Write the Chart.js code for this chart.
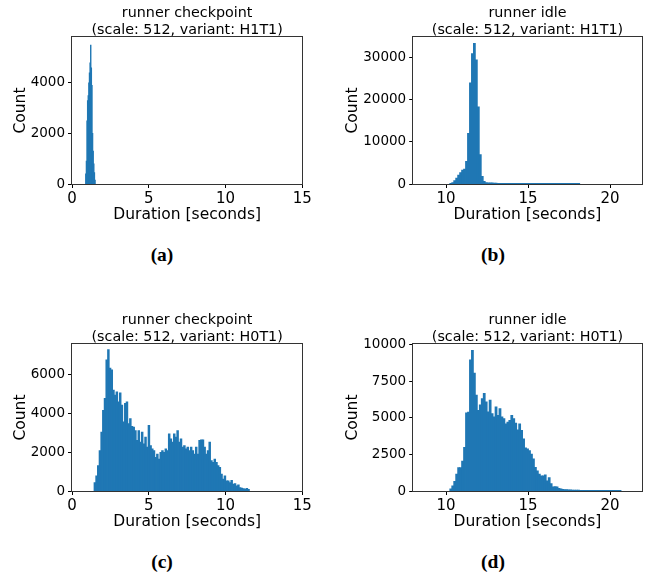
<!DOCTYPE html>
<html>
<head>
<meta charset="utf-8">
<script src="https://cdn.jsdelivr.net/npm/chart.js@4.4.1/dist/chart.umd.min.js"></script>
<style>
  html, body { margin: 0; padding: 0; background: #fff; }
  #wrap { position: relative; width: 651px; height: 578px; overflow: hidden; }
  .panel { position: absolute; }
  .cap { position: absolute; width: 120px; text-align: center; font-family: "Liberation Serif", "Times New Roman", serif; font-weight: bold; font-size: 19.5px; line-height: 1; color: #000; }
</style>
</head>
<body>
<div id="wrap">
  <canvas id="ca" class="panel" width="325" height="225" style="left:0px;top:0px"></canvas>
  <canvas id="cb" class="panel" width="326" height="225" style="left:325px;top:0px"></canvas>
  <canvas id="cc" class="panel" width="325" height="225" style="left:0px;top:307px"></canvas>
  <canvas id="cd" class="panel" width="326" height="225" style="left:325px;top:307px"></canvas>
  <div class="cap" style="left:102px;top:245px">(a)</div>
  <div class="cap" style="left:433px;top:245px">(b)</div>
  <div class="cap" style="left:102px;top:552px">(c)</div>
  <div class="cap" style="left:433px;top:552px">(d)</div>
</div>
<script>
// ---------- data ----------
const titlesA = ['runner checkpoint', '(scale: 512, variant: H1T1)'];
const titlesB = ['runner idle', '(scale: 512, variant: H1T1)'];
const titlesC = ['runner checkpoint', '(scale: 512, variant: H0T1)'];
const titlesD = ['runner idle', '(scale: 512, variant: H0T1)'];
const xLabel = 'Duration [seconds]';
const yLabel = 'Count';

// (a) bin centres and counts
const binsA = [0.90, 0.94, 0.98, 1.02, 1.06, 1.10, 1.14, 1.18, 1.22, 1.26, 1.30, 1.34, 1.38, 1.42, 1.46, 1.50];
const countsA = [400, 900, 2500, 3300, 3500, 4000, 4400, 4800, 5500, 4600, 3900, 2000, 1300, 800, 450, 150];

// (b)
const binsB = [10.29, 10.41, 10.53, 10.65, 10.77, 10.89, 11.01, 11.13, 11.25, 11.37, 11.49, 11.61, 11.73, 11.85, 11.97,
  12.09, 12.21, 12.33, 12.45, 12.57, 12.69, 12.81, 12.93, 13.05, 13.17, 13.29, 13.41, 13.53, 13.65, 13.77, 13.89,
  14.01, 14.13, 14.25, 14.37, 14.49, 14.61, 14.73, 14.85, 14.97, 15.09, 15.21, 15.33, 15.45, 15.57, 15.69, 15.81,
  15.93, 16.05, 16.17, 16.29, 16.41, 16.53, 16.65, 16.77, 16.89, 17.01, 17.13, 17.25, 17.37, 17.49, 17.61, 17.73,
  17.85, 17.97, 18.09];
const countsB = [50, 300, 800, 1400, 2100, 2700, 3300, 3500, 5400, 12000, 24000, 31000, 33400, 29500, 18300,
  7000, 1800, 600, 300, 260, 240, 250, 230, 180, 170, 160, 170, 150, 160, 150, 140,
  150, 130, 140, 110, 100, 100, 90, 100, 90, 90, 90, 80, 80, 80, 80, 70,
  70, 70, 70, 70, 60, 60, 60, 60, 60, 60, 60, 60, 60, 60, 60, 60,
  60, 60, 60];

// (c)
const binsC = [1.49, 1.60, 1.71, 1.82, 1.93, 2.04, 2.15, 2.26, 2.37, 2.48, 2.59, 2.70, 2.81, 2.92, 3.03, 3.14,
  3.25, 3.36, 3.47, 3.58, 3.69, 3.80, 3.91, 4.02, 4.13, 4.24, 4.35, 4.46, 4.57, 4.68, 4.79, 4.90,
  5.01, 5.12, 5.23, 5.34, 5.45, 5.56, 5.67, 5.78, 5.89, 6.00, 6.11, 6.22, 6.33, 6.44, 6.55, 6.66,
  6.77, 6.88, 6.99, 7.10, 7.21, 7.32, 7.43, 7.54, 7.65, 7.76, 7.87, 7.98, 8.09, 8.20, 8.31, 8.42,
  8.53, 8.64, 8.75, 8.86, 8.97, 9.08, 9.19, 9.30, 9.41, 9.52, 9.63, 9.74, 9.85, 9.96, 10.07, 10.18,
  10.29, 10.40, 10.51, 10.62, 10.73, 10.84, 10.95, 11.06, 11.17, 11.28, 11.39, 11.50];
const countsC = [430, 780, 1300, 2076, 3030, 4150, 4760, 6750, 7270, 6315, 6230, 5190, 4930, 5100, 4580, 5050,
  4410, 3550, 4500, 4580, 3460, 3720, 3320, 3290, 3110, 2600, 3110, 2510, 3030, 2420, 2770, 2250,
  3370, 2335, 2160, 2080, 1730, 1900, 1640, 1990, 2080, 1990, 2160, 2080, 2940, 2680, 2510, 2940,
  2770, 3110, 2510, 2680, 2250, 2335, 2160, 2250, 2080, 2250, 2080, 1900, 2250, 1900, 2600, 2630,
  2630, 2250, 1900, 2080, 2510, 1560, 1470, 1640, 1470, 1300, 1210, 865, 605, 780, 520, 520,
  433, 550, 346, 380, 260, 311, 173, 150, 120, 100, 130, 80];

// (d)
const binsD = [10.29, 10.41, 10.53, 10.65, 10.77, 10.89, 11.01, 11.13, 11.25, 11.37, 11.49, 11.61, 11.73, 11.85, 11.97,
  12.09, 12.21, 12.33, 12.45, 12.57, 12.69, 12.81, 12.93, 13.05, 13.17, 13.29, 13.41, 13.53, 13.65, 13.77, 13.89,
  14.01, 14.13, 14.25, 14.37, 14.49, 14.61, 14.73, 14.85, 14.97, 15.09, 15.21, 15.33, 15.45, 15.57, 15.69, 15.81,
  15.93, 16.05, 16.17, 16.29, 16.41, 16.53, 16.65, 16.77, 16.89, 17.01, 17.13, 17.25, 17.37, 17.49, 17.61, 17.73,
  17.85, 17.97, 18.09, 18.21, 18.33, 18.45, 18.57, 18.69, 18.81, 18.93, 19.05, 19.17, 19.29, 19.41, 19.53, 19.65,
  19.77, 19.89, 20.01, 20.13, 20.25, 20.37, 20.49, 20.61];
const countsD = [150, 350, 650, 1150, 1600, 1600, 2050, 2990, 5340, 5400, 8980, 9620, 8060, 6560, 5525,
  5900, 6330, 6675, 6100, 5410, 6215, 5295, 5065, 5755, 5180, 5640, 5065, 4950, 4600, 4720, 4835,
  5180, 4950, 4650, 4190, 4600, 4145, 3570, 2950, 2880, 2760, 2530, 2190, 1610, 1380, 1150, 1035,
  1035, 1100, 690, 920, 510, 276, 300, 276, 184, 138, 115, 100, 90, 80, 70, 60,
  60, 50, 50, 40, 40, 40, 40, 30, 30, 30, 30, 30, 30, 20, 20, 20,
  20, 20, 20, 20, 20, 20, 20, 20];

// axis ranges and tick values
const xRangeA = [0, 15], xRangeB = [8.0, 21.93], xRangeC = [0, 15], xRangeD = [8.0, 21.93];
const yMaxA = 5820, yMaxB = 34930, yMaxC = 7560, yMaxD = 10060;
const xTicksA = [0, 5, 10, 15], xTicksB = [10, 15, 20], xTicksC = [0, 5, 10, 15], xTicksD = [10, 15, 20];
const yTicksA = [0, 2000, 4000], yTicksB = [0, 10000, 20000, 30000], yTicksC = [0, 2000, 4000, 6000], yTicksD = [0, 2500, 5000, 7500, 10000];

// ---------- drawing ----------
Chart.defaults.font.family = "'DejaVu Sans', sans-serif";
Chart.defaults.color = '#000';
const BLUE = '#1f77b4';

const framePlugin = {
  id: 'frame',
  afterDraw(chart) {
    const a = chart.chartArea, ctx = chart.ctx;
    const l = Math.round(a.left) - 0.5, r = Math.round(a.right) + 0.5;
    const t = Math.round(a.top) - 0.5, b = Math.round(a.bottom) + 0.5;
    ctx.save();
    ctx.strokeStyle = '#333';
    ctx.lineWidth = 1;
    ctx.strokeRect(l, t, r - l, b - t);
    ctx.restore();
  }
};

function makeHist(id, p) {
  const pts = p.bins.map((b, i) => ({x: b, y: p.counts[i]}));
  return new Chart(document.getElementById(id), {
    type: 'bar',
    data: { datasets: [{ data: pts, backgroundColor: BLUE, borderWidth: 0, categoryPercentage: 1, barPercentage: 1, inflateAmount: 0.4 }] },
    options: {
      responsive: false,
      animation: false,
      devicePixelRatio: 1,
      layout: { padding: { left: 0, right: p.padRight, top: 0, bottom: 0 } },
      plugins: {
        legend: { display: false },
        tooltip: { enabled: false },
        title: {
          display: true, fullSize: false, text: p.title, color: '#000',
          font: { size: 14.3, weight: 'normal', lineHeight: 1.19 },
          padding: { top: 4.5, bottom: -1.5 }
        }
      },
      scales: {
        x: {
          type: 'linear', min: p.xRange[0], max: p.xRange[1], offset: false,
          afterBuildTicks: s => { s.ticks = p.xTicks.map(v => ({ value: v })); },
          afterFit: s => { s.height = 41; },
          grid: { display: true, drawOnChartArea: false, offset: false, tickLength: 4, tickColor: '#000', tickWidth: 1 },
          border: { display: false },
          ticks: { font: { size: 15 }, color: '#000', padding: 2, maxRotation: 0, autoSkip: false, callback: v => String(v) },
          title: { display: true, text: xLabel, color: '#000', font: { size: 15.5 }, padding: { top: 0, bottom: 1.2 } }
        },
        y: {
          type: 'linear', min: 0, max: p.yMax,
          afterBuildTicks: s => { s.ticks = p.yTicks.map(v => ({ value: v })); },
          afterFit: s => { s.width = p.yWidth; },
          grid: { display: true, drawOnChartArea: false, tickLength: 4, tickColor: '#000', tickWidth: 1 },
          border: { display: false },
          ticks: { font: { size: 13.5 }, color: '#000', padding: 3, autoSkip: false, callback: v => String(v) },
          title: { display: true, text: yLabel, color: '#000', font: { size: 15.5 }, padding: { top: p.yTitlePad, bottom: 0 } }
        }
      }
    },
    plugins: [framePlugin]
  });
}

makeHist('ca', { bins: binsA, counts: countsA, title: titlesA, xRange: xRangeA, xTicks: xTicksA, yMax: yMaxA, yTicks: yTicksA, yWidth: 72, padRight: 22.7, yTitlePad: 11.7 });
makeHist('cb', { bins: binsB, counts: countsB, title: titlesB, xRange: xRangeB, xTicks: xTicksB, yMax: yMaxB, yTicks: yTicksB, yWidth: 88.2, padRight: 9.3, yTitlePad: 18.7 });
makeHist('cc', { bins: binsC, counts: countsC, title: titlesC, xRange: xRangeC, xTicks: xTicksC, yMax: yMaxC, yTicks: yTicksC, yWidth: 72, padRight: 22.7, yTitlePad: 11.7 });
makeHist('cd', { bins: binsD, counts: countsD, title: titlesD, xRange: xRangeD, xTicks: xTicksD, yMax: yMaxD, yTicks: yTicksD, yWidth: 88.2, padRight: 9.3, yTitlePad: 18.7 });
</script>
</body>
</html>
